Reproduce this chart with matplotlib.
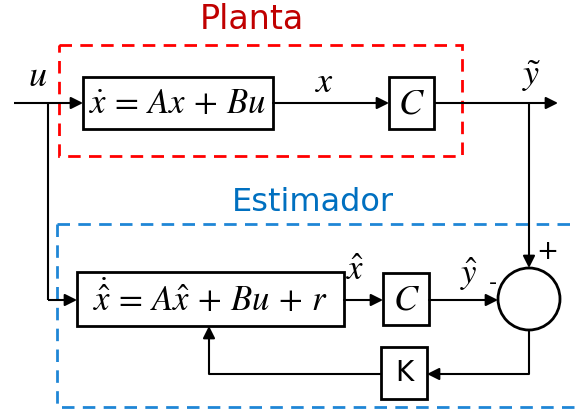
import matplotlib.pyplot as plt
from matplotlib.patches import Rectangle, Circle

plt.rcParams['mathtext.fontset'] = 'stix'

# textos del diagrama
titulos = ['Planta', 'Estimador']
colores_titulo = ['#c00000', '#0070c0']
ecuaciones = [r'$\dot{x}\,=\,Ax\,+\,Bu$', r'$\dot{\hat{x}}\,=\,A\hat{x}\,+\,Bu\,+\,r$']
etiquetas_senal = [r'$u$', r'$x$', r'$\tilde{y}$', r'$\hat{x}$', r'$\hat{y}$']
ganancias = [r'$C$', r'$C$', 'K']
signos = ['+', '-']

fig = plt.figure(figsize=(5.77, 4.12), dpi=100)
ax = fig.add_axes([0, 0, 1, 1])
ax.set_xlim(0, 577)
ax.set_ylim(412, 0)
ax.axis('off')

LW = 1.5


def caja(x0, y0, x1, y1, texto, fs=20, **kw):
    ax.add_patch(Rectangle((x0, y0), x1 - x0, y1 - y0, fill=False, ec='k', lw=2, zorder=3))
    ax.text((x0 + x1) / 2, (y0 + y1) / 2, texto, ha='center', va='center', fontsize=fs, zorder=4, **kw)


def flecha(p0, p1):
    ax.annotate('', xy=p1, xytext=p0,
                arrowprops=dict(arrowstyle='-|>', lw=LW, color='k', mutation_scale=18,
                                shrinkA=0, shrinkB=0), zorder=2)


def linea(xs, ys):
    ax.plot(xs, ys, color='k', lw=LW, solid_capstyle='butt', zorder=2)


# recuadros punteados
guiones = (0, (4.5, 3))
ax.add_patch(Rectangle((59, 45), 403, 111, fill=False, ec='#ff0000', lw=2, ls=guiones, zorder=1))
ax.plot([57, 57, 600], [224, 407, 407], color='#1f86d6', lw=2, ls=guiones, zorder=1)
ax.plot([57, 600], [224, 224], color='#1f86d6', lw=2, ls=guiones, zorder=1)

ax.text(252, 19, titulos[0], color=colores_titulo[0], fontsize=24, ha='center', va='center')
ax.text(313, 202, titulos[1], color=colores_titulo[1], fontsize=23, ha='center', va='center')

# planta
caja(83, 77, 273, 129, ecuaciones[0], fs=25)
caja(389, 77, 434, 129, ganancias[0], fs=26)
linea([14, 60], [103, 103])
flecha((60, 103), (83, 103))
flecha((273, 103), (389, 103))
linea([434, 530], [103, 103])
flecha((530, 103), (558, 103))
ax.text(38, 76, etiquetas_senal[0], fontsize=26, ha='center', va='center')
ax.text(325, 82, etiquetas_senal[1], fontsize=26, ha='center', va='center')
ax.text(531, 76, etiquetas_senal[2], fontsize=26, ha='center', va='center')

# estimador
caja(77, 272, 344, 326, ecuaciones[1], fs=25)
caja(383, 273, 429, 325, ganancias[1], fs=26)
caja(381, 347, 427, 399, ganancias[2], fs=20, family='DejaVu Sans')
linea([48, 48], [103, 300])
linea([48, 60], [300, 300])
flecha((60, 300), (77, 300))
flecha((344, 300), (383, 300))
flecha((429, 300), (498, 300))
ax.add_patch(Circle((529, 299), 31, fill=False, ec='k', lw=2, zorder=3))
linea([529, 529], [103, 240])
flecha((529, 240), (529, 268))
linea([529, 529, 460], [330, 374, 374])
flecha((460, 374), (427, 374))
linea([381, 209, 209], [374, 374, 345])
flecha((209, 345), (209, 326))
ax.text(355, 270, etiquetas_senal[3], fontsize=25, ha='center', va='center')
ax.text(469, 274, etiquetas_senal[4], fontsize=25, ha='center', va='center')
ax.text(547, 252, signos[0], fontsize=19, ha='center', va='center')
ax.text(493, 283, signos[1], fontsize=16, ha='center', va='center')

fig.savefig('out.png', dpi=100)
